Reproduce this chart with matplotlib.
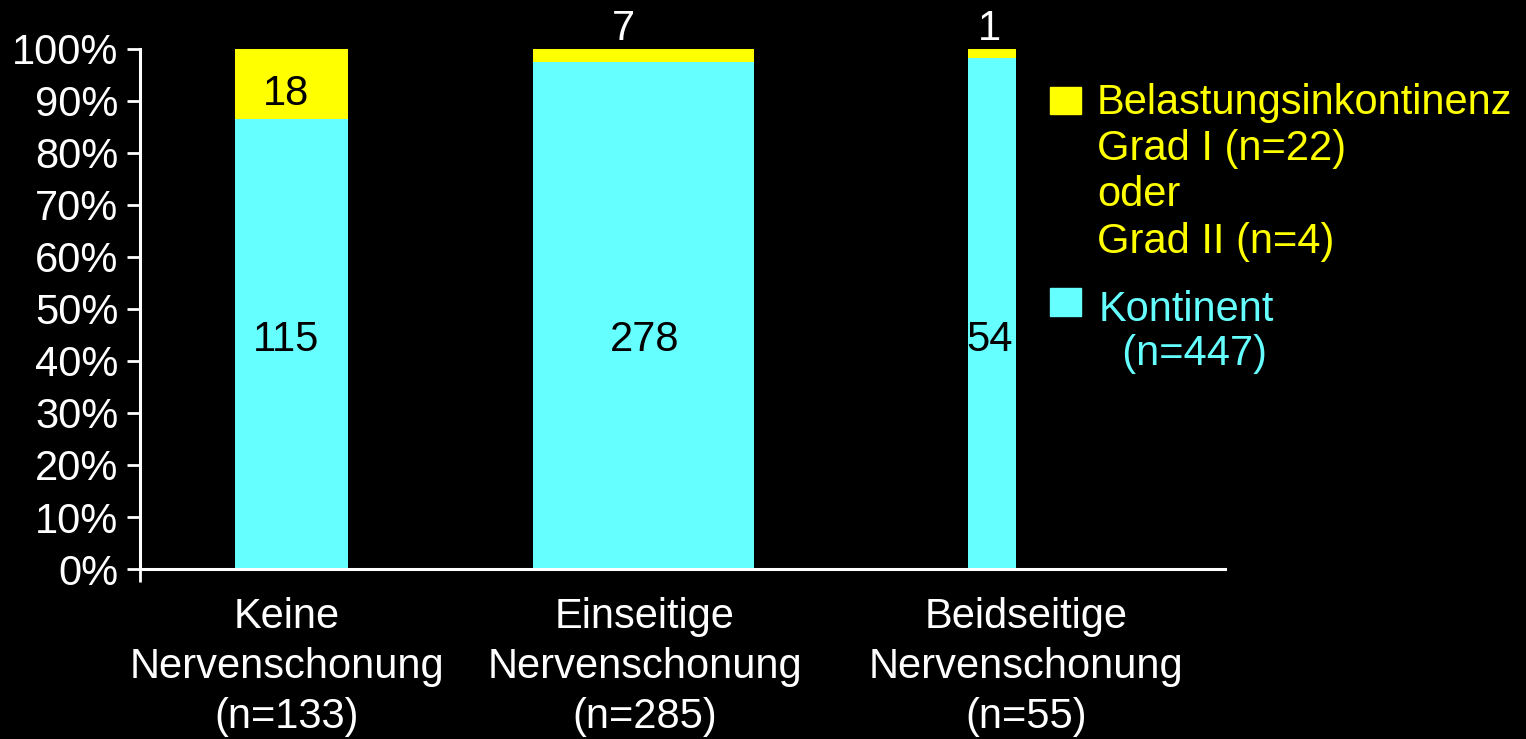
import matplotlib.pyplot as plt
from matplotlib.patches import Rectangle

# daten
gruppen = ["Keine\nNervenschonung\n(n=133)", "Einseitige\nNervenschonung\n(n=285)", "Beidseitige\nNervenschonung\n(n=55)"]
kontinent = [115, 278, 54]
belastung = [18, 7, 1]
legende_gelb = "Belastungsinkontinenz\nGrad I (n=22)\noder\nGrad II (n=4)"
legende_cyan = "Kontinent\n  (n=447)"

# positionen (achse 0..1085 entspricht der bildbreite der achse)
bar_x = [152, 504, 852]
bar_w = [113, 221, 48]
label_x = [147, 505, 886]

gelb = "#FFFF00"
cyan = "#66FFFF"

plt.rcParams["font.family"] = ["Liberation Sans", "DejaVu Sans"]
plt.rcParams["font.size"] = 30

fig = plt.figure(figsize=(15.26, 7.39), dpi=100, facecolor="black")
ax = fig.add_axes([0.0917, 0.230, 0.711, 0.704])
ax.set_facecolor("black")

gesamt = [k + b for k, b in zip(kontinent, belastung)]
anteil_k = [k / g for k, g in zip(kontinent, gesamt)]
anteil_b = [b / g for b, g in zip(belastung, gesamt)]

ax.bar(bar_x, anteil_k, width=bar_w, color=cyan)
ax.bar(bar_x, anteil_b, width=bar_w, bottom=anteil_k, color=gelb)

# werte in den balken (alle auf gleicher hoehe wie im original)
wert_x = [bar_x[0] - 6, bar_x[1] + 1, bar_x[2] - 2]
for i in range(3):
    ax.text(wert_x[i], 0.44, str(kontinent[i]), ha="center", va="center", color="black")
ax.text(bar_x[0] - 6, anteil_k[0] + anteil_b[0] / 2 - 0.02, str(belastung[0]),
        ha="center", va="center", color="black")
for i, xo in zip([1, 2], [-20, -2]):
    ax.text(bar_x[i] + xo, 1.0, str(belastung[i]),
            ha="center", va="bottom", color="white", clip_on=False)

ax.set_xlim(0, 1085)
ax.set_ylim(0, 1.0)
ax.set_yticks([i / 10 for i in range(11)])
ax.set_yticklabels([f"{i * 10}%" for i in range(11)])
ax.set_xticks(label_x)
ax.set_xticklabels(gruppen, linespacing=1.33)
ax.set_xticks([0], minor=True)

ax.tick_params(axis="y", colors="white", length=9.5, width=2, pad=6, labelsize=30)
ax.tick_params(axis="x", which="major", colors="white", length=0, pad=20, labelsize=30)
ax.tick_params(axis="x", which="minor", colors="white", length=9.5, width=2)

for s in ["top", "right"]:
    ax.spines[s].set_visible(False)
for s in ["left", "bottom"]:
    ax.spines[s].set_color("white")
    ax.spines[s].set_linewidth(2.2)

# legende
fig.patches.append(Rectangle((1050 / 1526, 1 - 114 / 739), 31 / 1526, 27 / 739,
                             transform=fig.transFigure, color=gelb))
fig.patches.append(Rectangle((1050 / 1526, 1 - 316 / 739), 31 / 1526, 28 / 739,
                             transform=fig.transFigure, color=cyan))
fig.text(1097 / 1526, 1 - 83 / 739, legende_gelb, color=gelb, va="top", ha="left", linespacing=1.2)
fig.text(1099 / 1526, 1 - 290 / 739, legende_cyan, color=cyan, va="top", ha="left", linespacing=1.12)

fig.savefig("out.png", dpi=100, facecolor="black")
